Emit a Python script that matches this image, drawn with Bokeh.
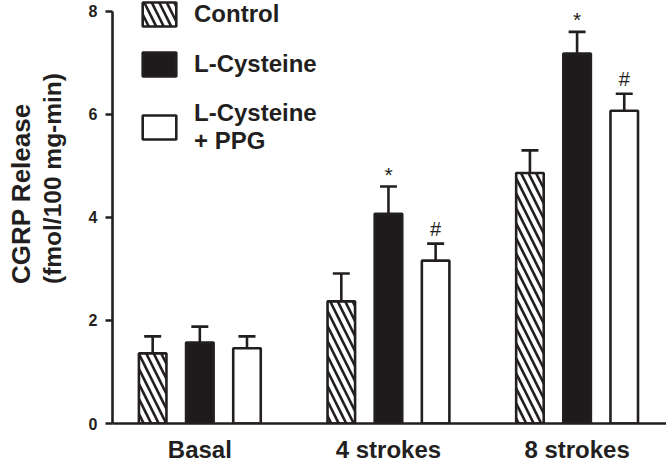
import numpy as np
from bokeh.plotting import figure
from bokeh.layouts import row
from bokeh.models import (Range1d, FixedTicker, Whisker, TeeHead, ColumnDataSource,
                          Legend, LegendItem)
from bokeh.core.properties import value
from bokeh.embed import file_html
from bokeh.resources import INLINE

# ---- data ----
groups = ["Basal", "4 strokes", "8 strokes"]
series_labels = ["Control", "L-Cysteine", "L-Cysteine\n+ PPG"]
control = [1.36, 2.37, 4.86]
control_err = [0.33, 0.54, 0.44]
lcys = [1.57, 4.07, 7.18]
lcys_err = [0.31, 0.53, 0.42]
ppg = [1.46, 3.16, 6.07]
ppg_err = [0.23, 0.33, 0.33]
lcys_marks = ["", "*", "*"]
ppg_marks = ["", "#", "#"]
y_ticks = [0, 2, 4, 6, 8]
y_title_lines = ["CGRP Release", "(fmol/100 mg-min)"]

FONT = "Liberation Sans"
INK = "#231f20"
W, H = 666, 467
TITLE_W = 85

# ---- narrow panel holding the two-line y-axis title (pixel coordinates) ----
pt = figure(width=TITLE_W, height=H, output_backend="svg", toolbar_location=None,
            x_range=Range1d(0, TITLE_W), y_range=Range1d(0, H),
            x_axis_location=None, y_axis_location=None,
            min_border_left=0, min_border_right=0, min_border_top=0, min_border_bottom=0)
pt.outline_line_color = None
pt.xgrid.visible = False
pt.ygrid.visible = False
pt.text(x=[20, 52], y=[H - 313, H - 313], text=y_title_lines, angle=np.pi / 2,
        text_align="left", text_baseline="alphabetic",
        text_font=value(FONT), text_font_style="bold",
        text_font_size=["26px", "24.5px"], text_color=INK)

# ---- main chart ----
p = figure(width=W - TITLE_W, height=H, output_backend="svg", toolbar_location=None,
           x_range=Range1d(0.037, 2.974), y_range=Range1d(0, 8.208),
           min_border_left=26, min_border_right=0, min_border_top=0, min_border_bottom=44)
p.outline_line_color = None
p.xgrid.visible = False
p.ygrid.visible = False
p.background_fill_color = "white"

centers = np.arange(len(groups)) + 0.5
offset = 0.25
bw = 0.146

series = [
    (control, control_err, dict(fill_color="white", hatch_pattern="left_diagonal_line",
                                hatch_color=INK, hatch_weight=2.6, hatch_scale=15)),
    (lcys, lcys_err, dict(fill_color="#1e1b1c")),
    (ppg, ppg_err, dict(fill_color="white")),
]

renderers = []
tops_by_series = []
xs_by_series = []
for i, (vals, errs, style) in enumerate(series):
    xs = centers + (i - 1) * offset
    src = ColumnDataSource(dict(x=xs, top=vals))
    r = p.vbar(x="x", top="top", width=bw, bottom=0, source=src,
               line_color=INK, line_width=2.6, **style)
    renderers.append(r)
    upper = np.array(vals) + np.array(errs)
    wsrc = ColumnDataSource(dict(x=xs, lower=vals, upper=upper))
    w = Whisker(base="x", lower="lower", upper="upper", source=wsrc,
                line_color=INK, line_width=2.6, lower_head=None,
                upper_head=TeeHead(size=17, line_color=INK, line_width=2.6),
                level="annotation")
    p.add_layout(w)
    tops_by_series.append(upper)
    xs_by_series.append(xs)

# significance marks
p.text(x=xs_by_series[1], y=tops_by_series[1], text=lcys_marks,
       text_font=value(FONT), text_font_size="21px", text_align="center",
       text_baseline="alphabetic", y_offset=-12, text_color=INK)
p.text(x=xs_by_series[2], y=tops_by_series[2], text=ppg_marks,
       text_font=value(FONT), text_font_size="20px", text_align="center",
       text_baseline="alphabetic", y_offset=-15, text_color=INK)

# axes
yax = p.yaxis[0]
yax.ticker = FixedTicker(ticks=y_ticks)
yax.bounds = (0, 8)
yax.minor_tick_line_color = None
yax.major_tick_in = 0
yax.major_tick_out = 7
yax.major_tick_line_width = 2.6
yax.major_tick_line_color = INK
yax.axis_line_width = 2.6
yax.axis_line_color = INK
yax.major_label_text_font = FONT
yax.major_label_text_font_style = "bold"
yax.major_label_text_font_size = "16px"
yax.major_label_text_color = INK
yax.major_label_standoff = 8

xax = p.xaxis[0]
xax.ticker = FixedTicker(ticks=list(centers))
xax.major_label_overrides = {float(c): g for c, g in zip(centers, groups)}
xax.minor_tick_line_color = None
xax.major_tick_line_color = None
xax.major_tick_in = 0
xax.major_tick_out = 0
xax.axis_line_width = 2.6
xax.axis_line_color = INK
xax.major_label_text_font = FONT
xax.major_label_text_font_style = "bold"
xax.major_label_text_font_size = "24px"
xax.major_label_text_color = INK
xax.major_label_standoff = 12

legend = Legend(items=[LegendItem(label=lab, renderers=[r])
                       for lab, r in zip(series_labels, renderers)],
                location=(26, 423 - 155))
legend.label_text_font = FONT
legend.label_text_font_style = "bold"
legend.label_text_font_size = "24px"
legend.label_text_color = INK
legend.glyph_width = 42
legend.glyph_height = 30
legend.spacing = 20
legend.padding = 0
legend.margin = 0
legend.label_standoff = 14
legend.border_line_color = None
legend.background_fill_alpha = 0
p.add_layout(legend)

layout = row(pt, p)
open("out.html", "w").write(file_html(layout, INLINE))
